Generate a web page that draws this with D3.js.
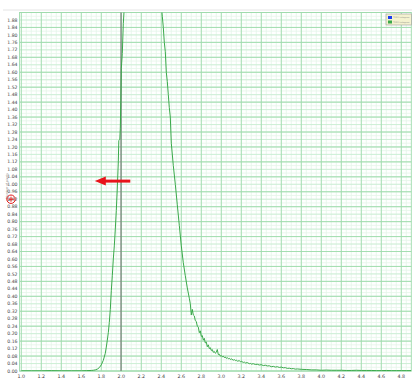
<!DOCTYPE html>
<html><head><meta charset="utf-8">
<script src="https://cdn.jsdelivr.net/npm/d3@7"></script>
<style>body{margin:0;background:#fff;}svg{display:block;font-family:"DejaVu Sans",sans-serif;}</style>
</head><body>
<svg id="c" width="412" height="379"></svg>
<script>
const binX = [1.00,1.10,1.20,1.30,1.40,1.50,1.60,1.65,1.70,1.72,1.74,1.76,1.78,1.80,1.82,1.84,1.85,1.86,1.87,1.88,1.89,1.90,1.91,1.92,1.93,1.94,1.95,1.96,1.97,1.975,1.985,1.99,1.995,2.00,2.01,2.02,2.03,2.05,2.10,2.20,2.30,2.36,2.40,2.41,2.42,2.43,2.44,2.45,2.46,2.47,2.48,2.49,2.50,2.52,2.54,2.56,2.58,2.60,2.62,2.64,2.66,2.68,2.69,
  2.70,2.71,2.72,2.73,2.74,2.75,2.76,2.77,2.78,2.79,2.80,2.81,2.82,2.83,2.84,2.85,2.86,2.87,2.88,2.89,2.90,2.91,2.92,2.93,2.94,2.95,2.96,2.97,2.98,2.99,
  3.00,3.01,3.02,3.03,3.04,3.05,3.06,3.07,3.08,3.09,3.10,3.12,3.13,3.14,3.15,3.16,3.18,3.19,3.20,3.22,3.23,3.24,3.26,3.28,3.29,3.30,3.32,3.34,3.36,3.38,3.40,3.42,3.44,3.46,3.48,3.50,3.52,3.54,3.56,3.58,3.60,3.62,3.64,3.66,3.68,3.70,3.72,3.74,3.76,3.80,3.85,3.90,3.95,4.00,4.05,4.10,4.15,4.20,4.25,4.30,4.35,4.40,4.45,4.50,4.55,4.60,4.65,4.70,4.75,4.80,4.85,4.90];
const histY = [0.001,0.001,0.001,0.002,0.001,0.001,0.001,0.002,0.003,0.004,0.006,0.010,0.018,0.033,0.057,0.095,0.128,0.165,0.205,0.26,0.33,0.43,0.51,0.60,0.67,0.76,0.86,0.98,1.12,1.235,1.24,1.30,1.45,1.62,1.70,1.86,1.95,2.30,3.00,3.60,3.10,2.40,1.96,1.90,1.84,1.76,1.71,1.60,1.55,1.48,1.41,1.36,1.22,1.10,1.00,0.89,0.78,0.67,0.58,0.51,0.445,0.39,0.36,
  0.30,0.33,0.30,0.295,0.27,0.265,0.24,0.235,0.205,0.215,0.185,0.19,0.165,0.175,0.15,0.155,0.13,0.14,0.12,0.125,0.11,0.115,0.10,0.105,0.095,0.10,0.115,0.088,0.09,0.08,
  0.083,0.076,0.079,0.072,0.075,0.068,0.071,0.066,0.068,0.062,0.065,0.058,0.061,0.056,0.058,0.053,0.055,0.050,0.052,0.046,0.048,0.043,0.045,0.039,0.041,0.037,0.039,0.035,0.036,0.032,0.034,0.029,0.031,0.027,0.028,0.023,0.025,0.021,0.023,0.019,0.021,0.017,0.018,0.014,0.015,0.012,0.013,0.010,0.011,0.009,0.008,0.006,0.006,0.004,0.005,0.004,0.004,0.004,0.003,0.003,0.004,0.003,0.003,0.003,0.002,0.002,0.003,0.002,0.002,0.002,0.002,0.002];
const xTickLabels = [1.0,1.2,1.4,1.6,1.8,2.0,2.2,2.4,2.6,2.8,3.0,3.2,3.4,3.6,3.8,4.0,4.2,4.4,4.6,4.8];
const yTickLabels = d3.range(0, 48).map(i => +(i*0.04).toFixed(2));
const markerX = [2.0];
const legendNames = ["TOPO histogram", "TOPO histogram"];
const legendColors = ["#1a3cf0", "#3aa84a"];

const svg = d3.select("#c");
const L = 19.5, R = 411.3, T = 12.5, B = 371;
const x = d3.scaleLinear().domain([0.982, 4.9]).range([L, R]);
const y = d3.scaleLinear().domain([0, 1.92]).range([B, T]);

svg.append("line").attr("x1",3).attr("x2",412).attr("y1",10).attr("y2",10).attr("stroke","#e4e4e4");

const g = svg.append("g");
g.selectAll(".vm").data(d3.range(1.0, 4.9, 0.05)).enter().append("line")
  .attr("x1", d=>x(d)).attr("x2", d=>x(d)).attr("y1", T).attr("y2", B)
  .attr("stroke", "#e5f6e9").attr("stroke-width", 0.8);
g.selectAll(".hm").data(d3.range(0, 1.93, 0.02)).enter().append("line")
  .attr("x1", L).attr("x2", R).attr("y1", d=>y(d)).attr("y2", d=>y(d))
  .attr("stroke", "#e5f6e9").attr("stroke-width", 0.8);
g.selectAll(".hmed").data(yTickLabels).enter().append("line")
  .attr("x1", L).attr("x2", R).attr("y1", d=>y(d)).attr("y2", d=>y(d))
  .attr("stroke", "#c6ecd0").attr("stroke-width", 0.8);
g.selectAll(".hM").data(d3.range(0, 1.93, 0.08)).enter().append("line")
  .attr("x1", L).attr("x2", R).attr("y1", d=>y(d)).attr("y2", d=>y(d))
  .attr("stroke", "#9fdbad").attr("stroke-width", 0.9);
g.selectAll(".vM").data(xTickLabels).enter().append("line")
  .attr("x1", d=>x(d)).attr("x2", d=>x(d)).attr("y1", T).attr("y2", B)
  .attr("stroke", "#9fdbad").attr("stroke-width", 0.9);
svg.append("rect").attr("x", L).attr("y", T).attr("width", R-L).attr("height", B-T)
  .attr("fill","none").attr("stroke","#9fdbad").attr("stroke-width",0.9);

svg.selectAll(".mk").data(markerX).enter().append("line")
  .attr("x1", d=>x(d)-0.3).attr("x2", d=>x(d)-0.3).attr("y1", T).attr("y2", B)
  .attr("stroke", "#6b6b6b").attr("stroke-width", 1);

svg.append("clipPath").attr("id","clp").append("rect")
  .attr("x", L).attr("y", T).attr("width", R-L).attr("height", B-T);
const data = binX.map((d,i)=>[d, histY[i]]);
svg.append("path").datum(data).attr("clip-path","url(#clp)")
  .attr("fill","none").attr("stroke","#3aa84a").attr("stroke-width",1)
  .attr("d", d3.line().x(d=>x(d[0])).y(d=>y(d[1])));

svg.selectAll(".yl").data(yTickLabels).enter().append("text")
  .attr("x", 17.5).attr("y", d=>y(d)+1.6).attr("text-anchor","end")
  .attr("font-size", 4.6).attr("fill","#444").text(d=>d.toFixed(2));
svg.selectAll(".xl").data(xTickLabels).enter().append("text")
  .attr("x", d=>x(d)).attr("y", 377.5).attr("text-anchor","middle")
  .attr("font-size", 4.8).attr("fill","#444").text(d=>d.toFixed(1));

svg.append("text").attr("transform","translate(7.5,186) rotate(-90)")
  .attr("text-anchor","middle").attr("font-size",3).attr("fill","#777").text("Number of pixels");

const tg = svg.append("g").attr("transform", `translate(11,${y(0.92)})`);
tg.append("circle").attr("r",4.2).attr("fill","none").attr("stroke","#e01818").attr("stroke-width",1);
tg.append("line").attr("x1",-2.5).attr("x2",2.5).attr("stroke","#e01818").attr("stroke-width",1);
tg.append("line").attr("y1",-2.5).attr("y2",2.5).attr("stroke","#e01818").attr("stroke-width",1);

const ay = y(1.017), ax0 = x(2.09), ax1 = x(1.735);
svg.append("line").attr("x1", ax0).attr("x2", ax1+8).attr("y1", ay).attr("y2", ay)
  .attr("stroke","#e8141a").attr("stroke-width",3);
svg.append("path").attr("d", `M${ax1},${ay} L${ax1+11},${ay-4.5} L${ax1+11},${ay+4.5} Z`).attr("fill","#e8141a");

const lg = svg.append("g").attr("transform","translate(386,14)");
lg.append("rect").attr("width",25.5).attr("height",11).attr("fill","#f4f2cf").attr("stroke","#9a9a9a").attr("stroke-width",0.6);
legendNames.forEach((n,i)=>{
  lg.append("rect").attr("x",2).attr("y",2+i*4.5).attr("width",4).attr("height",3).attr("fill",legendColors[i]);
  lg.append("text").attr("x",7.2).attr("y",4.4+i*4.5).attr("font-size",2)
    .attr("fill","#888").text(n);
});
</script>
</body></html>
